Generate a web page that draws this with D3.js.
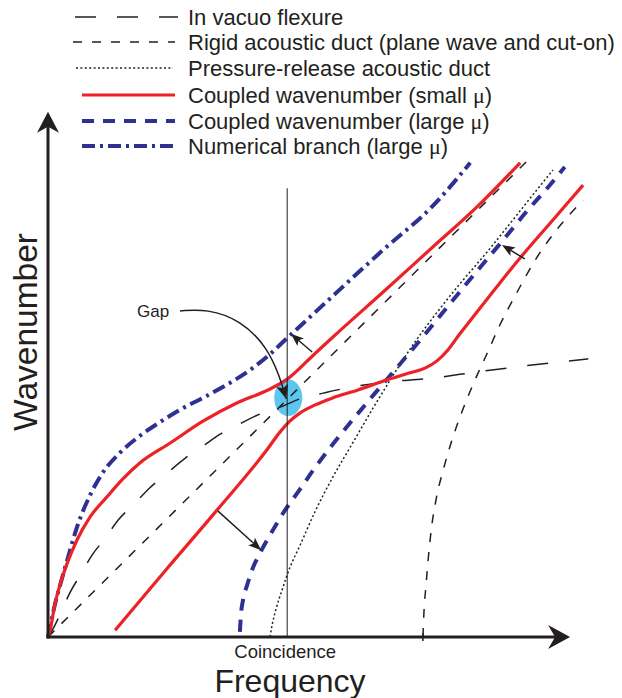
<!DOCTYPE html>
<html><head><meta charset="utf-8">
<script src="https://cdn.jsdelivr.net/npm/d3@7"></script>
<style>body{margin:0;background:#fff}svg{display:block}</style>
</head><body>
<svg id="c" width="622" height="698"></svg>
<script>
// ---- data (arbitrary frequency / wavenumber units) ----
const flexureF = [0,1.35,2.7,4.2,6.2,8.5,11,13.5,16.4,19.6,22.9,26.4,29.8,33.1,36.9,40.8,44.6,49,52.9,57.5,63.9,74,82.7,91.4,103.9];
const flexureK = [0,2.3,5.2,8.5,11.9,15.8,19,22.5,25.4,28.7,31.5,34.4,36.7,39,41,42.9,44.2,46,46.9,47.9,48.9,49.8,51,52.1,53.5];
const rigidPlaneF = [0,92.7];
const rigidPlaneK = [0,92.1];
const cutOnF = [72.1,72.3,72.7,73.1,73.7,74.6,76,77.7,79.6,81.7,84.2,86.9,90.2,93.7,97.5,102.9];
const cutOnK = [0,4.8,10,14.8,20.6,26.3,32.1,37.9,43.3,48.5,54,60,66.3,72.5,77.9,84];
const pressureF = [42.7,43.1,43.8,45,46.5,48.5,51.3,54.8,58.7,62.5,66.3,70.2,74.4,79.2,84.4,89.4,93.7,97.1];
const pressureK = [0,2.3,5.2,9,13.3,17.7,24,30.8,37.5,44,50.2,56.2,61.9,67.9,74,80.2,85.6,89.8];
const smallUpperF = [0,0.6,1.3,2.3,3.7,5.6,8.1,11.3,14.4,17.7,23.5,29.8,36.3,42.7,46,50.8,54.8,64.4,74,82.5,90.8];
const smallUpperK = [0,2.3,6.2,10,14.2,18.7,23.1,26.9,30.4,33.5,37.3,41.5,45,47.7,49.6,54,57.7,66.3,75,82.7,91.2];
const smallLowerF = [12.9,22.5,32.5,42.1,44.6,46.5,48.5,51.3,54.8,59.6,64.4,69.6,72.5,74.8,76.9,79.2,81.7,86.9,91.3,97.1,102.9];
const smallLowerK = [1.3,12.7,24.4,36,39.4,41.5,43.1,44.6,46,47.5,49.2,50.8,51.7,53.1,55.2,58.3,61.5,68.1,73.5,80.2,86.9];
const largeF = [36.9,37.1,37.5,38.3,39.4,40.8,42.7,45.2,48.1,51.3,54.8,58.7,62.9,67.7,72.9,77.9,82.7,87.5,92.1,96,99.4];
const largeK = [1,4.2,7.1,10,13.3,16.2,19.6,23.8,27.9,32.5,37.1,41.9,46.9,52.5,58.7,64.8,70.6,76.3,81.9,86.3,90.4];
const numericalF = [0,0.4,1,1.7,2.7,3.7,5.6,8.1,10.6,13.8,17.7,21.5,25.4,29.8,34,38.8,42.7,46,51,56.2,64.4,74,81.2];
const numericalK = [0,1.9,4.8,7.7,11.3,14.8,21.2,27.3,31.7,35.4,38.7,41.3,43.7,46,48.3,51.3,54.4,57.5,62.1,66.9,74.4,82.9,91.2];

const coincidenceF = 46;
const coincidenceTopK = 86.3;
const cutOnTickF = 72.1;
const gapCenter = [46.2, 46];
const gapPathF = [25.4,30.6,37.1,42.1,44.6,45.8];
const gapPathK = [62.7,63.1,60.9,55.8,50,45.8];
const arrowTails = [[50.8,54.8],[32.7,24.2],[91.7,72.7]];
const arrowTips  = [[46.7,58.3],[41,16.7],[87.3,75.4]];

const legendLabels = ["In vacuo flexure","Rigid acoustic duct (plane wave and cut-on)","Pressure-release acoustic duct","Coupled wavenumber (small ","Coupled wavenumber (large ","Numerical branch (large "];
const legendMu = [false,false,false,true,true,true];

// ---- drawing ----
const svg = d3.select("#c");
const x = d3.scaleLinear().domain([0,100]).range([48,568]);
const y = d3.scaleLinear().domain([0,100]).range([637,117]);
const INK = "#231f20", RED = "#ec2227", BLUE = "#2e3192", CYAN = "#5cc6ee";
const FONT = "'Liberation Sans', Arial, Helvetica, sans-serif";

const styles = {
  flexure:  {stroke: INK,  width: 1.5, dash: "21 21"},
  rigid:    {stroke: INK,  width: 1.5, dash: "9 10"},
  pressure: {stroke: INK,  width: 1.5, dash: "2 2.4"},
  small:    {stroke: RED,  width: 3.2, dash: null},
  large:    {stroke: BLUE, width: 4,   dash: "12 9"},
  numer:    {stroke: BLUE, width: 4,   dash: "13 5 3 5"}
};

function zip(a,b){ return a.map((v,i)=>[v,b[i]]); }
const lineGen = d3.line().x(d=>x(d[0])).y(d=>y(d[1])).curve(d3.curveMonotoneX);
const straight = d3.line().x(d=>x(d[0])).y(d=>y(d[1]));

function headPath(tx,ty,ang,L,hw,notch){
  const ux=Math.cos(ang), uy=Math.sin(ang), px=-uy, py=ux;
  const bx=tx-ux*L, by=ty-uy*L;
  return `M${tx},${ty}L${bx+px*hw},${by+py*hw}L${tx-ux*(L-notch)},${ty-uy*(L-notch)}L${bx-px*hw},${by-py*hw}Z`;
}

// gap ellipse (beneath lines)
svg.append("ellipse")
  .attr("cx", x(gapCenter[0])).attr("cy", y(gapCenter[1]))
  .attr("rx", x(2.7)-x(0)).attr("ry", y(0)-y(3.5))
  .attr("fill", CYAN);

function drawCurve(F,K,st,gen){
  svg.append("path").attr("d",(gen||lineGen)(zip(F,K)))
    .attr("fill","none").attr("stroke",st.stroke).attr("stroke-width",st.width)
    .attr("stroke-dasharray",st.dash).attr("stroke-linecap","butt");
}
drawCurve(flexureF, flexureK, styles.flexure);
drawCurve(rigidPlaneF, rigidPlaneK, styles.rigid, straight);
drawCurve(cutOnF, cutOnK, styles.rigid);
drawCurve(pressureF, pressureK, styles.pressure);
drawCurve(numericalF, numericalK, styles.numer);
drawCurve(largeF, largeK, styles.large);
drawCurve(smallUpperF, smallUpperK, styles.small);
drawCurve(smallLowerF, smallLowerK, styles.small);

// coincidence line
svg.append("line").attr("x1",x(coincidenceF)).attr("x2",x(coincidenceF))
  .attr("y1",y(0)).attr("y2",y(coincidenceTopK)).attr("stroke",INK).attr("stroke-width",1);

// cut-on tick
svg.append("line").attr("x1",x(cutOnTickF)).attr("x2",x(cutOnTickF))
  .attr("y1",y(0)-4).attr("y2",y(0)+4).attr("stroke",INK).attr("stroke-width",1.5);

// annotation arrows
arrowTails.forEach((t,i)=>{
  const tip = arrowTips[i];
  const x1=x(t[0]), y1=y(t[1]), x2=x(tip[0]), y2=y(tip[1]);
  const ang = Math.atan2(y2-y1, x2-x1);
  svg.append("line").attr("x1",x1).attr("y1",y1)
    .attr("x2",x2-Math.cos(ang)*8).attr("y2",y2-Math.sin(ang)*8)
    .attr("stroke",INK).attr("stroke-width",1.5);
  svg.append("path").attr("d",headPath(x2,y2,ang,13,5,3)).attr("fill",INK);
});

// gap curved arrow
const gapPts = zip(gapPathF, gapPathK);
svg.append("path").attr("d", d3.line().x(d=>x(d[0])).y(d=>y(d[1])).curve(d3.curveBasis)(gapPts))
  .attr("fill","none").attr("stroke",INK).attr("stroke-width",1.5);
{
  const a = gapPts[gapPts.length-2], b = gapPts[gapPts.length-1];
  const ang = Math.atan2(y(b[1])-y(a[1]), x(b[0])-x(a[0]));
  svg.append("path").attr("d",headPath(x(b[0]),y(b[1]),ang,14,6,3)).attr("fill",INK);
}
svg.append("text").attr("x", x(20.2)).attr("y", y(62.7)+6)
  .attr("text-anchor","middle").attr("font-family",FONT).attr("font-size",17).attr("fill",INK).text("Gap");

// axes
const xEnd = 100.4, yEnd = 101;
svg.append("line").attr("x1",x(0)).attr("y1",y(0)).attr("x2",x(xEnd)-14).attr("y2",y(0))
  .attr("stroke",INK).attr("stroke-width",3).attr("stroke-linecap","square");
svg.append("line").attr("x1",x(0)).attr("y1",y(0)).attr("x2",x(0)).attr("y2",y(yEnd)+14)
  .attr("stroke",INK).attr("stroke-width",3).attr("stroke-linecap","square");
svg.append("path").attr("d",headPath(x(xEnd),y(0),0,22,12,7)).attr("fill",INK);
svg.append("path").attr("d",headPath(x(0),y(yEnd),-Math.PI/2,21,11,6)).attr("fill",INK);

// axis labels
svg.append("text").attr("x",290).attr("y",692).attr("text-anchor","middle")
  .attr("font-family",FONT).attr("font-size",32).attr("fill",INK).text("Frequency");
svg.append("text").attr("x",x(coincidenceF)-2).attr("y",658).attr("text-anchor","middle")
  .attr("font-family",FONT).attr("font-size",18.5).attr("fill",INK).text("Coincidence");
svg.append("text").attr("transform","translate(37,332) rotate(-90)").attr("text-anchor","middle")
  .attr("font-family",FONT).attr("font-size",33.5).attr("fill",INK).text("Wavenumber");

// legend
const legendKeys = ["flexure","rigid","pressure","small","large","numer"];
const legBase = [25,50,76,103,129,154];
const legX0 = [75,73,76,82,82,82], legX1 = [178,175,173,175,175,175];
legendKeys.forEach((k,i)=>{
  const st = styles[k];
  const ly = legBase[i]-8;
  svg.append("line").attr("x1",legX0[i]).attr("x2",legX1[i]).attr("y1",ly).attr("y2",ly)
    .attr("stroke",st.stroke).attr("stroke-width",st.width).attr("stroke-dasharray",st.dash);
  const t = svg.append("text").attr("x",188).attr("y",legBase[i])
    .attr("font-family",FONT).attr("font-size",22).attr("fill",INK);
  t.append("tspan").text(legendLabels[i]);
  if (legendMu[i]) {
    t.append("tspan").attr("font-family","'Liberation Serif', 'Times New Roman', serif").text("\u03BC");
    t.append("tspan").text(")");
  }
});
</script>
</body></html>
